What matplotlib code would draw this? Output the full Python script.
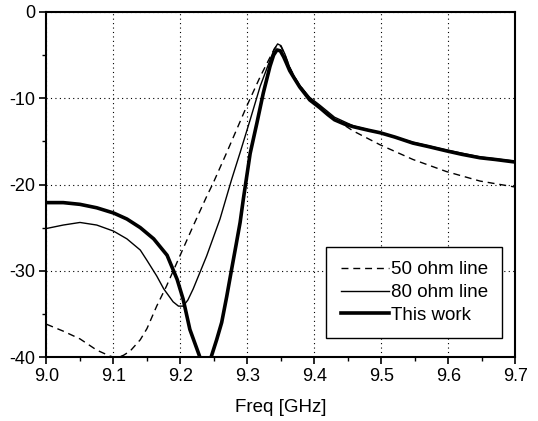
import matplotlib
matplotlib.use("Agg")
import matplotlib.pyplot as plt
from matplotlib.ticker import MultipleLocator

plt.rcParams['font.family'] = ['Liberation Sans', 'DejaVu Sans']

# 50 ohm line (dashed)
f_50 = [9.00, 9.025, 9.05, 9.075, 9.095, 9.105, 9.115, 9.125, 9.14, 9.15, 9.1645, 9.179,
        9.199, 9.219, 9.239, 9.249, 9.269, 9.284, 9.299, 9.319, 9.334, 9.34, 9.345, 9.35,
        9.356, 9.363, 9.37, 9.378, 9.393, 9.408, 9.43, 9.458, 9.498, 9.547, 9.597, 9.647, 9.70]
s_50 = [-36.2, -37.0, -37.9, -39.2, -39.9, -40.1, -39.8, -39.3, -38.0, -36.7, -34.1, -31.8,
        -28.3, -24.8, -21.4, -19.8, -16.3, -13.6, -10.9, -7.5, -5.2, -4.3, -3.8, -4.0,
        -5.0, -6.4, -7.5, -8.5, -10.0, -11.0, -12.4, -13.8, -15.4, -17.1, -18.5, -19.6, -20.3]

# 80 ohm line (thin)
f_80 = [9.00, 9.025, 9.05, 9.075, 9.10, 9.12, 9.14, 9.15, 9.1645, 9.175, 9.189, 9.197,
        9.204, 9.211, 9.219, 9.239, 9.259, 9.2764, 9.289, 9.304, 9.319, 9.334, 9.34, 9.345,
        9.35, 9.356, 9.363, 9.37, 9.378, 9.393, 9.408, 9.43, 9.458, 9.498, 9.547, 9.597,
        9.647, 9.70]
s_80 = [-25.1, -24.7, -24.4, -24.7, -25.4, -26.3, -27.6, -28.8, -30.6, -32.1, -33.6, -34.1,
        -34.1, -33.4, -32.1, -28.3, -24.0, -19.4, -16.3, -12.5, -8.6, -5.5, -4.3, -3.7,
        -3.9, -4.9, -6.4, -7.5, -8.5, -9.9, -10.8, -12.2, -13.2, -14.0, -15.1, -16.0,
        -16.8, -17.3]

# This work (thick)
f_tw = [9.00, 9.025, 9.05, 9.075, 9.10, 9.12, 9.14, 9.16, 9.18, 9.195, 9.204, 9.214, 9.228,
        9.237, 9.2466, 9.254, 9.2615, 9.269, 9.2764, 9.283, 9.289, 9.294, 9.299, 9.304, 9.314,
        9.3236, 9.3336, 9.339, 9.344, 9.349, 9.354, 9.358, 9.363, 9.37, 9.378, 9.385, 9.393,
        9.408, 9.42, 9.43, 9.445, 9.458, 9.48, 9.498, 9.52, 9.547, 9.57, 9.597, 9.62, 9.647,
        9.67, 9.70]
s_tw = [-22.1, -22.1, -22.3, -22.7, -23.3, -24.0, -25.0, -26.3, -28.2, -31.0, -33.3, -36.8,
        -39.8, -42.0, -39.8, -38.0, -36.0, -33.0, -29.8, -27.0, -24.4, -21.6, -19.0, -16.4, -12.9,
        -9.4, -6.3, -5.0, -4.4, -4.5, -5.2, -5.9, -6.8, -7.7, -8.7, -9.4, -10.2,
        -11.1, -11.9, -12.5, -13.0, -13.3, -13.7, -14.0, -14.5, -15.2, -15.6, -16.1, -16.5, -16.9,
        -17.1, -17.4]

fig = plt.figure(figsize=(5.38, 4.21), dpi=100)
ax = fig.add_axes([0.0864, 0.152, 0.8717, 0.8195])

ax.plot(f_50, s_50, color='black', lw=1.0, dashes=(5, 3.5), label='50 ohm line')
ax.plot(f_80, s_80, color='black', lw=1.0, label='80 ohm line')
ax.plot(f_tw, s_tw, color='black', lw=2.6, label='This work')

ax.set_xlim(9.0, 9.7)
ax.set_ylim(-40, 0)
ax.xaxis.set_minor_locator(MultipleLocator(0.05))
ax.yaxis.set_minor_locator(MultipleLocator(5))
ax.set_xticks([9.0, 9.1, 9.2, 9.3, 9.4, 9.5, 9.6, 9.7])
ax.set_xticklabels(['9.0', '9.1', '9.2', '9.3', '9.4', '9.5', '9.6', '9.7'])
ax.set_yticks([0, -10, -20, -30, -40])
ax.set_yticklabels(['0', '-10', '-20', '-30', '-40'])

ax.tick_params(which='major', direction='out', length=5, width=1.2, labelsize=13, pad=3)
ax.tick_params(which='minor', direction='out', length=3, width=1.0)
for sp in ax.spines.values():
    sp.set_linewidth(1.5)

ax.grid(True, which='major', color='black', linestyle=(0, (1, 3)), lw=0.8)
ax.set_xlabel('Freq [GHz]', fontsize=13.5, labelpad=10)

leg = ax.legend(loc='lower right', bbox_to_anchor=(0.972, 0.055), borderaxespad=0,
                fontsize=13.5, handlelength=2.6, handletextpad=0.1, fancybox=False,
                framealpha=1, edgecolor='black', borderpad=0.75, labelspacing=0.3)
leg.get_frame().set_linewidth(1.0)

fig.savefig('out.png', dpi=100)
